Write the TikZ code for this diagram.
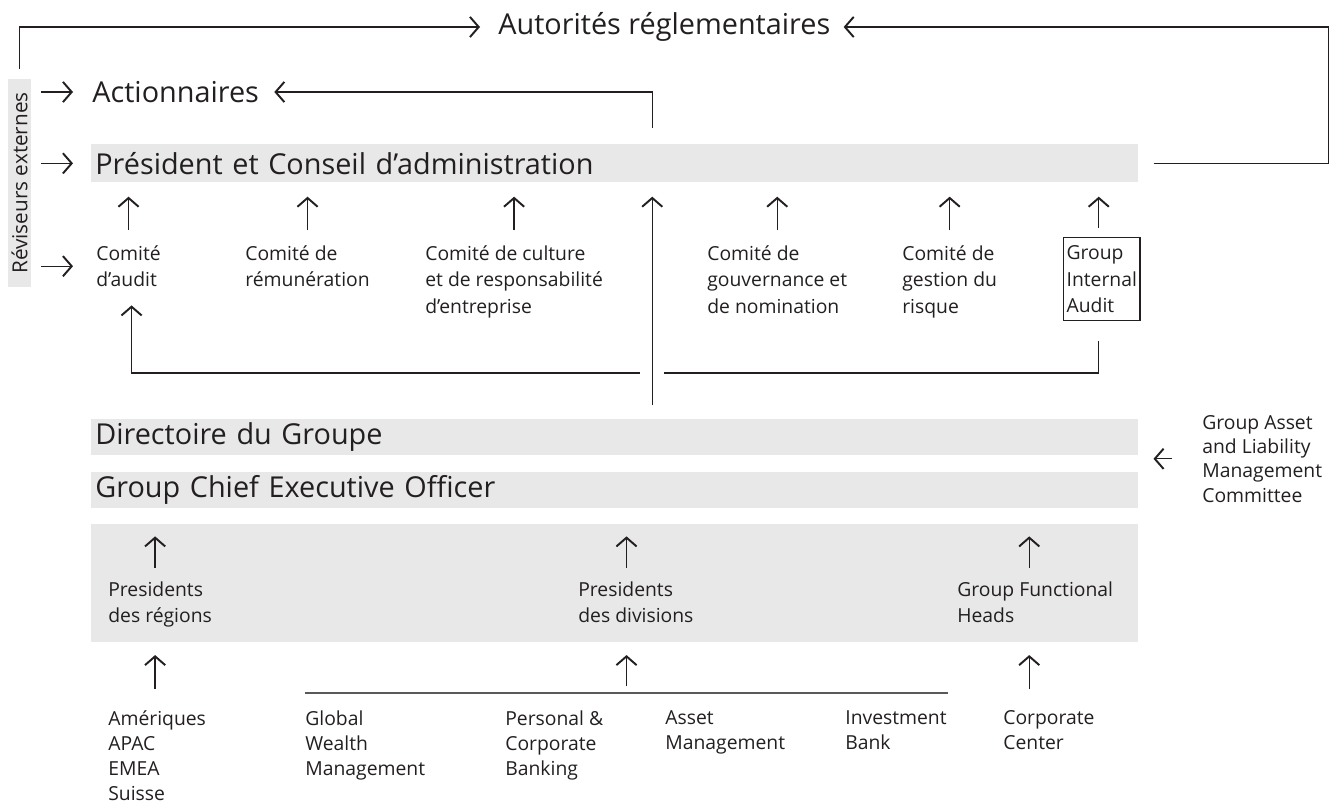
\documentclass[tikz,border=0pt]{standalone}
\usepackage{fontspec}
\setmainfont{Open Sans}
\usepackage{tikz}
\usetikzlibrary{positioning}
\usetikzlibrary{arrows.meta}
\definecolor{ink}{RGB}{35,31,32}
\definecolor{band}{RGB}{232,232,233}

\begin{document}
\begin{tikzpicture}
	[	x=0.02cm, y=-0.02cm,
		big/.style={inner sep=0pt,text=ink,font=\fontsize{16.4}{19}\selectfont},
		small/.style={inner sep=0pt,text=ink,align=left,font=\fontsize{11}{15.2}\selectfont},
		bar/.style={fill=band,text=ink,anchor=north west,minimum width=20.94cm,text width=20.78cm,
			inner xsep=0.08cm,inner ysep=0pt,align=left,font=\fontsize{16.4}{19}\selectfont},
		vec/.style={-{Straight Barb[length=5pt,width=11.5pt,line width=1.1pt]},draw=ink,line width=0.7pt},
		line/.style={draw=ink,line width=0.7pt},
		divline/.style={draw=black!65,line width=1.3pt}	]
	\useasboundingbox (0,0) rectangle (1340,804);
	\node[big,anchor=west] (aut) at (498,27) {Autorités réglementaires};
	\node[small,fill=band,rotate=90,minimum width=4.16cm,minimum height=0.46cm,font=\fontsize{11.8}{14}\selectfont] (rev) at (19.5,183) {Réviseurs externes};
	\node[big,anchor=west] (act) at (92,92) {Actionnaires};
	\node[bar,minimum height=0.76cm] (pres) at (91,144) {Président et Conseil d’administration};
	% comites
	\node[small,anchor=north west] (caud) at (96,245) {Comité\\d’audit};
	\node[small,anchor=north west] (crem) at (245,245) {Comité de\\rémunération};
	\node[small,anchor=north west] (ccult) at (425,245) {Comité de culture\\et de responsabilité\\d’entreprise};
	\node[small,anchor=north west] (cgouv) at (707,245) {Comité de\\gouvernance et\\de nomination};
	\node[small,anchor=north west] (crisk) at (902,245) {Comité de\\gestion du\\risque};
	\node[small,draw=ink,line width=0.7pt,anchor=north west,minimum width=1.5cm,minimum height=1.66cm,inner sep=0.06cm] (gia) at (1063,237) {Group\\Internal\\Audit};
	% direction
	\node[bar,minimum height=0.72cm] (dir) at (91,419) {Directoire du Groupe};
	\node[bar,minimum height=0.72cm] (ceo) [below=0.32cm of dir] {Group Chief Executive Officer};
	\node[bar,minimum height=2.36cm] (ops) [below=0.3cm of ceo] {};
	\node[small,anchor=north west,font=\fontsize{11}{13.8}\selectfont] (galm) at (1202,415) {Group Asset\\and Liability\\Management\\Committee};
	\node[small,anchor=north west] (preg) at (108,581) {Presidents\\des régions};
	\node[small,anchor=north west] (pdiv) at (578,581) {Presidents\\des divisions};
	\node[small,anchor=north west] (gfh) at (957,581) {Group Functional\\Heads};
	% regions, divisions
	\node[small,anchor=north west,font=\fontsize{11}{14.3}\selectfont] (reg) at (108,710) {Amériques\\APAC\\EMEA\\Suisse};
	\node[small,anchor=north west,font=\fontsize{11}{14.3}\selectfont] (gwm) at (305,710) {Global\\Wealth\\Management};
	\node[small,anchor=north west,font=\fontsize{11}{14.3}\selectfont] (pcb) at (505,710) {Personal \&\\Corporate\\Banking};
	\node[small,anchor=north west,font=\fontsize{11}{14.3}\selectfont] (am) at (665,710) {Asset\\Management};
	\node[small,anchor=north west,font=\fontsize{11}{14.3}\selectfont] (ib) at (845,710) {Investment\\Bank};
	\node[small,anchor=north west,font=\fontsize{11}{14.3}\selectfont] (cc) at (1003,710) {Corporate\\Center};
	\coordinate (divL) at (305,693);
	\coordinate (divR) at (948,693);
	\coordinate (hopR) at (664,373);
	\coordinate (hopL) at (640,373);
	% connectors
	\draw[vec,shorten <=0.2cm,shorten >=0.36cm] (rev.east) |- (aut.west);
	\draw[vec,shorten <=0.3cm,shorten >=0.26cm] (pres.east) -- ++(190,0) |- (aut.east);
	\draw[vec,shorten <=0.32cm,shorten >=0.3cm] ([xshift=0.75cm]pres.north) |- (act.east);
	\draw[vec,shorten <=0.2cm,shorten >=0.38cm] (rev.south |- act.west) -- (act.west);
	\draw[vec,shorten <=0.2cm,shorten >=0.36cm] (rev.south |- pres.west) -- (pres.west);
	\draw[vec,shorten <=0.2cm,shorten >=0.46cm] (rev.south |- caud.west) -- (caud.west);
	\draw[vec,shorten <=0.3cm,shorten >=0.28cm] (caud.north) -- (caud.north |- pres.south);
	\draw[vec,shorten <=0.3cm,shorten >=0.28cm] (crem.north) -- (crem.north |- pres.south);
	\draw[vec,shorten <=0.3cm,shorten >=0.28cm] (ccult.north) -- (ccult.north |- pres.south);
	\draw[vec,shorten <=0.3cm,shorten >=0.28cm] (cgouv.north) -- (cgouv.north |- pres.south);
	\draw[vec,shorten <=0.3cm,shorten >=0.28cm] (crisk.north) -- (crisk.north |- pres.south);
	\draw[vec,shorten <=0.18cm,shorten >=0.28cm] ([xshift=-0.06cm]gia.north) -- ([xshift=-0.06cm]gia.north |- pres.south);
	\draw[line,shorten <=0.4cm] ([xshift=-0.06cm]gia.south) |- (hopR);
	\draw[vec,shorten >=0.36cm] (hopL) -| ([xshift=0.06cm]caud.south);
	\draw[vec,shorten <=0.28cm,shorten >=0.28cm] ([xshift=0.75cm]dir.north) -- ([xshift=0.75cm]pres.south);
	\draw[vec,shorten <=0.6cm,shorten >=0.3cm] (galm.west) -- (galm.west -| dir.east);
	\draw[divline] (divL) -- coordinate (divM) (divR);
	\draw[vec,shorten <=0.26cm,shorten >=0.26cm] ([xshift=-0.1cm]preg.north) -- ([xshift=-0.1cm]preg.north |- ops.north);
	\draw[vec,shorten <=0.26cm,shorten >=0.26cm] (divM |- pdiv.north) -- (divM |- ops.north);
	\draw[vec,shorten <=0.26cm,shorten >=0.26cm] ([xshift=-0.12cm]gfh.north) -- ([xshift=-0.12cm]gfh.north |- ops.north);
	\draw[vec,shorten <=0.42cm,shorten >=0.26cm] ([xshift=-0.1cm]preg.south |- reg.north) -- ([xshift=-0.1cm]preg.south |- ops.south);
	\draw[vec,shorten <=0.14cm,shorten >=0.26cm] (divM) -- (divM |- ops.south);
	\draw[vec,shorten <=0.42cm,shorten >=0.26cm] ([xshift=-0.12cm]gfh.south |- cc.north) -- ([xshift=-0.12cm]gfh.south |- ops.south);
\end{tikzpicture}
\end{document}
